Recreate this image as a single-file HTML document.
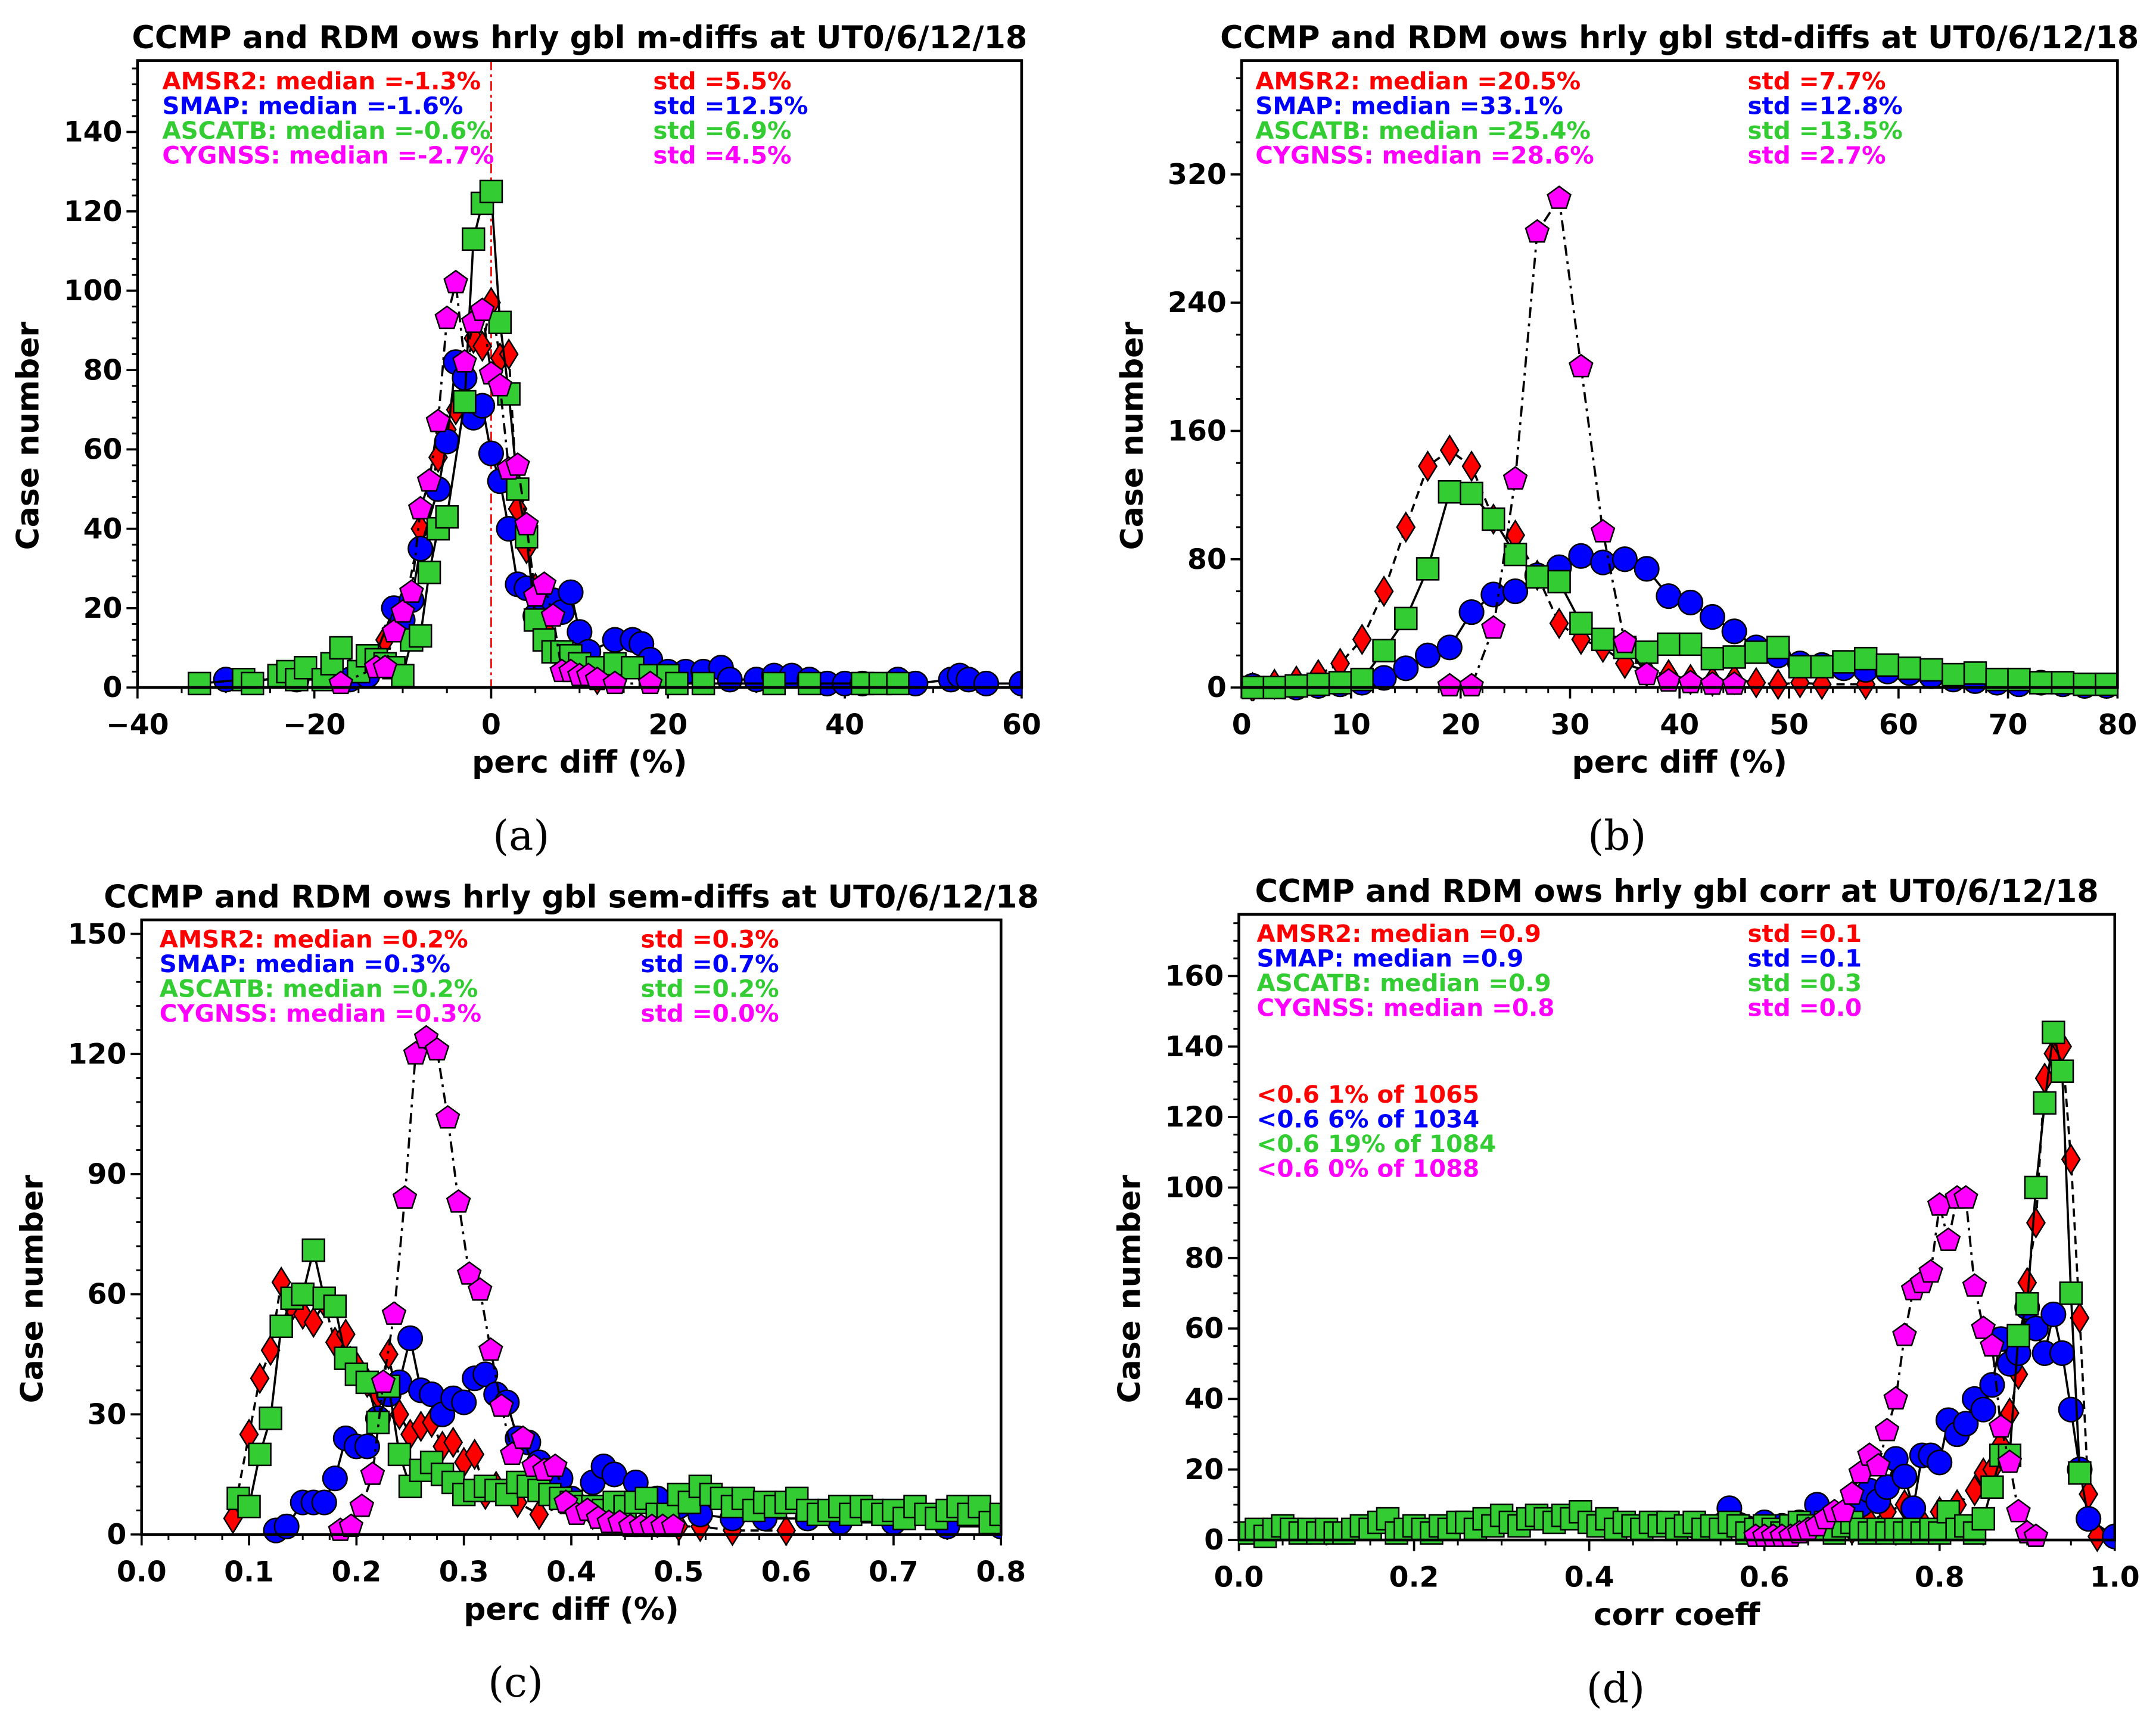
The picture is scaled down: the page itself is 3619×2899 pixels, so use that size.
<!DOCTYPE html>
<html><head><meta charset="utf-8"><style>
html,body{margin:0;padding:0;background:#fff;}
svg{display:block;}
text{font-family:"DejaVu Sans","Liberation Sans",sans-serif;font-weight:bold;}
.sub{font-family:"DejaVu Serif","Liberation Serif",serif;font-weight:normal;}
</style></head><body>
<svg id="fig" xmlns="http://www.w3.org/2000/svg" width="3619" height="2899" viewBox="0 0 1568 1256"></svg>
<script>
// ---------- Panel (a) data ----------
const aAmsrX=[-12,-10,-8,-6,-5,-4,-3,-2,-1,0,1,2,3,4,5,6,8,10,12];
const aAmsrY=[12,18,40,58,65,70,80,88,86,97,83,84,45,35,25,15,8,4,2];
const aSmapX=[-30,-22,-16,-14,-11,-10,-9,-8,-6,-5,-4,-3,-2,-1,0,1,2,3,4,5,6,7,8,9,10,11,14,16,17,18,20,22,24,26,27,30,32,34,36,38,40,42,46,48,52,53,54,56,60];
const aSmapY=[2,2,2,3,20,17,22,35,50,62,82,78,68,71,59,52,40,26,25,18,22,22,19,24,14,9,12,12,11,7,4,4,4,5,2,2,3,3,2,1,1,1,2,1,2,3,2,1,1];
const aAscX=[-33,-28,-27,-24,-23,-22,-21,-19,-18,-17,-15,-14,-13,-12,-11,-10,-9,-8,-7,-6,-5,-3,-2,-1,0,1,2,3,4,5,6,7,8,9,10,12,14,16,18,20,21,24,32,36,42,44,46];
const aAscY=[1,2,1,3,4,2,5,2,6,10,4,8,7,6,5,3,12,13,29,40,43,72,113,122,125,92,74,50,38,17,12,9,9,8,6,5,6,5,3,3,1,1,1,1,1,1,1];
const aCygX=[-17,-13,-12,-11,-10,-9,-8,-7,-6,-5,-4,-3,-2,-1,0,1,2,3,4,5,6,7,8,9,10,11,12,14,18];
const aCygY=[1,5,5,14,19,24,45,52,67,93,102,82,92,95,79,76,55,56,41,23,26,18,4,4,3,3,2,1,1];
// ---------- Panel (b) data ----------
const bAmsrX=[1,3,5,7,9,11,13,15,17,19,21,23,25,27,29,31,33,35,37,39,41,43,45,47,49,51,53,57];
const bAmsrY=[0,2,4,8,15,30,60,100,138,148,138,105,95,70,40,30,25,15,10,8,5,4,5,3,2,3,2,2];
const bSmapX=[1,5,7,9,11,13,15,17,19,21,23,25,27,29,31,33,35,37,39,41,43,45,47,49,51,53,55,57,59,61,63,65,67,69,71,73,75,77,79];
const bSmapY=[1,0,1,2,3,6,12,20,25,47,58,60,70,75,82,78,80,74,57,53,44,35,25,20,15,14,12,11,10,9,7,5,4,3,2,3,2,1,1];
const bAscX=[1,3,5,7,9,11,13,15,17,19,21,23,25,27,29,31,33,35,37,39,41,43,45,47,49,51,53,55,57,59,61,63,65,67,69,71,73,75,77,79];
const bAscY=[0,0,1,2,3,5,23,43,74,122,121,105,83,69,66,40,30,25,22,27,27,18,19,22,25,13,13,16,18,14,12,11,8,9,5,5,3,3,2,2];
const bCygX=[19,21,23,25,27,29,31,33,35,37,39,41,43,45];
const bCygY=[1,1,37,130,284,305,200,97,28,8,4,3,2,2];
// ---------- Panel (c) data ----------
const cAmsrX=[0.085,0.10,0.11,0.12,0.13,0.14,0.15,0.16,0.17,0.18,0.19,0.20,0.21,0.22,0.23,0.24,0.25,0.26,0.27,0.28,0.29,0.30,0.31,0.32,0.33,0.35,0.37,0.40,0.42,0.45,0.48,0.50,0.52,0.55,0.60];
const cAmsrY=[4,25,39,46,63,57,55,53,58,48,50,42,38,35,45,30,25,27,28,22,23,18,20,10,12,8,5,8,5,5,3,2,2,1,1];
const cSmapX=[0.125,0.135,0.15,0.16,0.17,0.18,0.19,0.20,0.21,0.22,0.23,0.24,0.25,0.26,0.27,0.28,0.29,0.30,0.31,0.32,0.33,0.34,0.35,0.36,0.37,0.38,0.39,0.40,0.42,0.43,0.44,0.46,0.48,0.50,0.52,0.55,0.58,0.62,0.65,0.70,0.75,0.80];
const cSmapY=[1,2,8,8,8,14,24,22,22,29,35,38,49,36,35,30,34,33,39,40,35,33,24,23,18,16,14,9,13,17,15,13,9,7,5,4,4,4,3,3,2,2];
const cAscX=[0.09,0.10,0.11,0.12,0.13,0.14,0.15,0.16,0.17,0.18,0.19,0.20,0.21,0.22,0.23,0.24,0.25,0.26,0.27,0.28,0.29,0.30,0.31,0.32,0.33,0.34,0.35,0.36,0.37,0.38,0.39,0.40,0.41,0.42,0.43,0.44,0.45,0.46,0.47,0.48,0.49,0.50,0.51,0.52,0.53,0.54,0.55,0.56,0.57,0.58,0.59,0.60,0.61,0.62,0.63,0.64,0.65,0.66,0.67,0.68,0.69,0.70,0.71,0.72,0.73,0.74,0.75,0.76,0.77,0.78,0.79,0.80];
const cAscY=[9,7,20,29,52,59,60,71,59,57,44,40,38,28,37,20,12,16,18,15,13,10,11,12,11,10,13,12,11,10,9,8,7,7,6,8,7,8,9,5,5,10,8,12,10,9,7,9,6,8,7,8,9,6,5,6,7,5,7,6,5,6,4,7,5,4,6,7,5,7,3,5];
const cCygX=[0.185,0.195,0.205,0.215,0.225,0.235,0.245,0.255,0.265,0.275,0.285,0.295,0.305,0.315,0.325,0.335,0.345,0.355,0.365,0.375,0.385,0.395,0.405,0.415,0.425,0.435,0.445,0.455,0.465,0.475,0.485,0.495];
const cCygY=[1,2,7,15,38,55,84,120,124,121,104,83,65,61,46,32,20,24,17,16,17,8,5,6,4,3,3,2,2,2,2,2];
// ---------- Panel (d) data ----------
const dAmsrX=[0.70,0.72,0.74,0.76,0.78,0.80,0.82,0.84,0.85,0.86,0.87,0.88,0.89,0.90,0.91,0.92,0.93,0.94,0.95,0.96,0.97,0.98];
const dAmsrY=[3,5,8,10,5,8,10,14,19,20,27,36,47,73,90,131,138,140,108,63,13,1];
const dSmapX=[0.52,0.56,0.60,0.62,0.64,0.66,0.68,0.70,0.71,0.72,0.73,0.74,0.75,0.76,0.77,0.78,0.79,0.80,0.81,0.82,0.83,0.84,0.85,0.86,0.87,0.88,0.89,0.90,0.91,0.92,0.93,0.94,0.95,0.96,0.97,1.00];
const dSmapY=[4,9,5,4,5,10,6,5,10,14,11,15,23,18,9,24,24,22,34,30,33,40,37,44,57,50,53,66,60,53,64,53,37,20,6,1];
const dAscX=[0.00,0.01,0.02,0.03,0.04,0.05,0.06,0.07,0.08,0.09,0.10,0.11,0.12,0.13,0.14,0.15,0.16,0.17,0.18,0.19,0.20,0.21,0.22,0.23,0.24,0.25,0.26,0.27,0.28,0.29,0.30,0.31,0.32,0.33,0.34,0.35,0.36,0.37,0.38,0.39,0.40,0.41,0.42,0.43,0.44,0.45,0.46,0.47,0.48,0.49,0.50,0.51,0.52,0.53,0.54,0.55,0.56,0.57,0.58,0.59,0.60,0.61,0.62,0.63,0.64,0.65,0.66,0.67,0.68,0.69,0.70,0.71,0.72,0.73,0.74,0.75,0.76,0.77,0.78,0.79,0.80,0.81,0.82,0.83,0.84,0.85,0.86,0.87,0.88,0.89,0.90,0.91,0.92,0.93,0.94,0.95,0.96];
const dAscY=[2,2,3,1,3,4,3,2,3,2,3,2,2,3,4,3,5,6,2,3,4,3,2,4,3,5,5,3,6,4,7,5,4,6,7,6,5,7,6,8,5,4,6,3,5,4,3,5,4,5,3,4,5,3,4,3,5,4,2,3,4,3,2,4,5,4,3,5,2,4,5,3,2,3,2,3,2,3,2,3,2,8,3,4,2,6,15,24,24,58,67,100,124,144,133,70,19];
const dCygX=[0.59,0.60,0.61,0.62,0.63,0.64,0.65,0.66,0.67,0.68,0.69,0.70,0.71,0.72,0.73,0.74,0.75,0.76,0.77,0.78,0.79,0.80,0.81,0.82,0.83,0.84,0.85,0.86,0.87,0.88,0.89,0.90,0.91];
const dCygY=[1,1,1,1,1,2,3,4,6,8,8,13,19,24,21,31,40,58,71,73,76,95,85,97,97,72,60,55,32,22,8,2,1];

const NS='http://www.w3.org/2000/svg';
const svg=document.getElementById('fig');
function mk(tag,attrs,parent){const e=document.createElementNS(NS,tag);for(const k in attrs)e.setAttribute(k,attrs[k]);(parent||svg).appendChild(e);return e;}
function txt(s,attrs,parent){const e=mk('text',attrs,parent);e.textContent=s;return e;}

const COL={amsr:'#ff0000',smap:'#0000ff',asc:'#33cc33',cyg:'#ff00ff'};

const panels=[
 {id:'a',px0:100,px1:743,py0:500,ytop:44,xmin:-40,xmax:60,ymax:158,xt:[-40,-20,0,20,40,60],xtl:['\u221240','\u221220','0','20','40','60'],xminor:5,yt:[0,20,40,60,80,100,120,140],yminor:4,
  title:'CCMP and RDM ows hrly gbl m-diffs at UT0/6/12/18',xlab:'perc diff (%)',sub:'(a)',subx:379,
  leg:['AMSR2: median =-1.3%','SMAP: median =-1.6%','ASCATB: median =-0.6%','CYGNSS: median =-2.7%'],std:['std =5.5%','std =12.5%','std =6.9%','std =4.5%'],lx:118,sx:475,ly:59,
  ser:[[aAmsrX,aAmsrY],[aSmapX,aSmapY],[aAscX,aAscY],[aCygX,aCygY]],vline:0},
 {id:'b',px0:903,px1:1540,py0:500,ytop:44,xmin:0,xmax:80,ymax:391,xt:[0,10,20,30,40,50,60,70,80],xminor:2,yt:[0,80,160,240,320],yminor:20,
  title:'CCMP and RDM ows hrly gbl std-diffs at UT0/6/12/18',xlab:'perc diff (%)',sub:'(b)',subx:1176,
  leg:['AMSR2: median =20.5%','SMAP: median =33.1%','ASCATB: median =25.4%','CYGNSS: median =28.6%'],std:['std =7.7%','std =12.8%','std =13.5%','std =2.7%'],lx:913,sx:1271,ly:59,
  ser:[[bAmsrX,bAmsrY],[bSmapX,bSmapY],[bAscX,bAscY],[bCygX,bCygY]]},
 {id:'c',px0:103,px1:728,py0:1116,ytop:669,xmin:0,xmax:0.8,ymax:153.5,xt:[0,0.1,0.2,0.3,0.4,0.5,0.6,0.7,0.8],dec:1,xminor:0.025,yt:[0,30,60,90,120,150],yminor:6,
  title:'CCMP and RDM ows hrly gbl sem-diffs at UT0/6/12/18',xlab:'perc diff (%)',sub:'(c)',subx:375,
  leg:['AMSR2: median =0.2%','SMAP: median =0.3%','ASCATB: median =0.2%','CYGNSS: median =0.3%'],std:['std =0.3%','std =0.7%','std =0.2%','std =0.0%'],lx:116,sx:466,ly:683,
  ser:[[cAmsrX,cAmsrY],[cSmapX,cSmapY],[cAscX,cAscY],[cCygX,cCygY]]},
 {id:'d',px0:901,px1:1538,py0:1120,ytop:665,xmin:0,xmax:1,ymax:177.5,xt:[0,0.2,0.4,0.6,0.8,1.0],dec:1,xminor:0.05,yt:[0,20,40,60,80,100,120,140,160],yminor:5,
  title:'CCMP and RDM ows hrly gbl corr at UT0/6/12/18',xlab:'corr coeff',sub:'(d)',subx:1175,
  leg:['AMSR2: median =0.9','SMAP: median =0.9','ASCATB: median =0.9','CYGNSS: median =0.8'],std:['std =0.1','std =0.1','std =0.3','std =0.0'],lx:914,sx:1271,ly:679,
  extra:['<0.6 1% of 1065','<0.6 6% of 1034','<0.6 19% of 1084','<0.6 0% of 1088'],
  ser:[[dAmsrX,dAmsrY],[dSmapX,dSmapY],[dAscX,dAscY],[dCygX,dCygY]]}
];
const keys=['amsr','smap','asc','cyg'];
const names=['amsr2','smap','ascatb','cygnss'];

function marker(kind,x,y,g){
  let e;
  if(kind==='amsr'){e=mk('polygon',{points:`${x},${y-10.5} ${x+6.5},${y} ${x},${y+10.5} ${x-6.5},${y}`},g);}
  else if(kind==='smap'){e=mk('circle',{cx:x,cy:y,r:8.8},g);}
  else if(kind==='asc'){e=mk('rect',{x:x-8,y:y-8,width:16,height:16},g);}
  else{let p=[];for(let i=0;i<5;i++){const a=-Math.PI/2+i*2*Math.PI/5;p.push((x+8.8*Math.cos(a)).toFixed(2)+','+(y+8.8*Math.sin(a)).toFixed(2));}e=mk('polygon',{points:p.join(' ')},g);}
  e.setAttribute('fill',COL[kind]);e.setAttribute('stroke','#000');e.setAttribute('stroke-width','1.1');
  return e;
}

panels.forEach(P=>{
  const G=mk('g',{});
  
  
  const sx=v=>P.px0+(v-P.xmin)/(P.xmax-P.xmin)*(P.px1-P.px0);
  const sy=v=>P.py0-v/P.ymax*(P.py0-P.ytop);
  const cp=mk('clipPath',{id:'clip'+P.id},G);
  mk('rect',{x:P.px0,y:P.ytop,width:P.px1-P.px0,height:P.py0-P.ytop+10},cp);
  const t=txt(P.title,{x:(P.px0+P.px1)/2,y:P.ytop-9,'text-anchor':'middle','font-size':22.7,fill:'#000'},G);
  
  const axG=mk('g',{},G);
  for(let v=0;v<=P.ymax+1e-9;v+=P.yminor){mk('line',{x1:P.px0-4,x2:P.px0,y1:sy(v),y2:sy(v),stroke:'#000','stroke-width':1.3},axG);}
  P.yt.forEach(v=>{mk('line',{x1:P.px0-8,x2:P.px0,y1:sy(v),y2:sy(v),stroke:'#000','stroke-width':1.6},axG);
    const l=txt(String(v),{x:P.px0-11,y:sy(v)+7,'text-anchor':'end','font-size':20.5,fill:'#000'},axG);
    });
  const nx=Math.round((P.xmax-P.xmin)/P.xminor);
  for(let i=0;i<=nx;i++){const v=P.xmin+i*P.xminor;mk('line',{x1:sx(v),x2:sx(v),y1:P.py0,y2:P.py0+4,stroke:'#000','stroke-width':1.3},axG);}
  P.xt.forEach((v,i)=>{mk('line',{x1:sx(v),x2:sx(v),y1:P.py0,y2:P.py0+8,stroke:'#000','stroke-width':1.6},axG);
    const s=P.xtl?P.xtl[i]:(P.dec?v.toFixed(P.dec):String(v));
    const l=txt(s,{x:sx(v),y:P.py0+34,'text-anchor':'middle','font-size':20.5,fill:'#000'},axG);
    });
  const xl=txt(P.xlab,{x:(P.px0+P.px1)/2,y:P.py0+62,'text-anchor':'middle','font-size':22.5,fill:'#000'},G);
  
  const yx=P.px0-72,ymid=(P.ytop+P.py0)/2+45;
  const yl=txt('Case number',{x:yx,y:ymid,'text-anchor':'middle','font-size':22.5,fill:'#000',transform:`rotate(-90 ${yx} ${ymid})`},G);
  
  const sb=txt(P.sub,{x:P.subx,y:P.py0+118,'text-anchor':'middle','font-size':30,fill:'#000',class:'sub'},G);
  
  if(P.vline!==undefined){const vl=mk('line',{x1:sx(P.vline),x2:sx(P.vline),y1:P.ytop,y2:P.py0,stroke:'#ff0000','stroke-width':1.2,'stroke-dasharray':'7,3,2,3'},G);
    }
  const dashes=['6,4','', '', '8,4,2,4'];
  P.ser.forEach((s,k)=>{
    const sg=mk('g',{'clip-path':`url(#clip${P.id})`},G);
    
    const pts=s[0].map((x,i)=>sx(x).toFixed(2)+','+sy(s[1][i]).toFixed(2)).join(' ');
    const pl=mk('polyline',{points:pts,fill:'none',stroke:'#000','stroke-width':1.6},sg);
    if(dashes[k])pl.setAttribute('stroke-dasharray',dashes[k]);
    
    s[0].forEach((x,i)=>{const m=marker(keys[k],sx(x),sy(s[1][i]),sg);
      
      });
  });
  const fr=mk('rect',{x:P.px0,y:P.ytop,width:P.px1-P.px0,height:P.py0-P.ytop,fill:'none',stroke:'#000','stroke-width':2},G);
  
  const lg=mk('g',{},G);
  P.leg.forEach((s,i)=>{const c=COL[keys[i]];
    const a=txt(s,{x:P.lx,y:P.ly+i*18+6,'font-size':17.5,fill:c},lg);
    const b=txt(P.std[i],{x:P.sx,y:P.ly+i*18+6,'font-size':17.5,fill:c},lg);});
  if(P.extra){P.extra.forEach((s,i)=>{const e=txt(s,{x:P.lx,y:796+i*18+6,'font-size':17.5,fill:COL[keys[i]]},lg);
    });}
});
</script>
</body></html>
